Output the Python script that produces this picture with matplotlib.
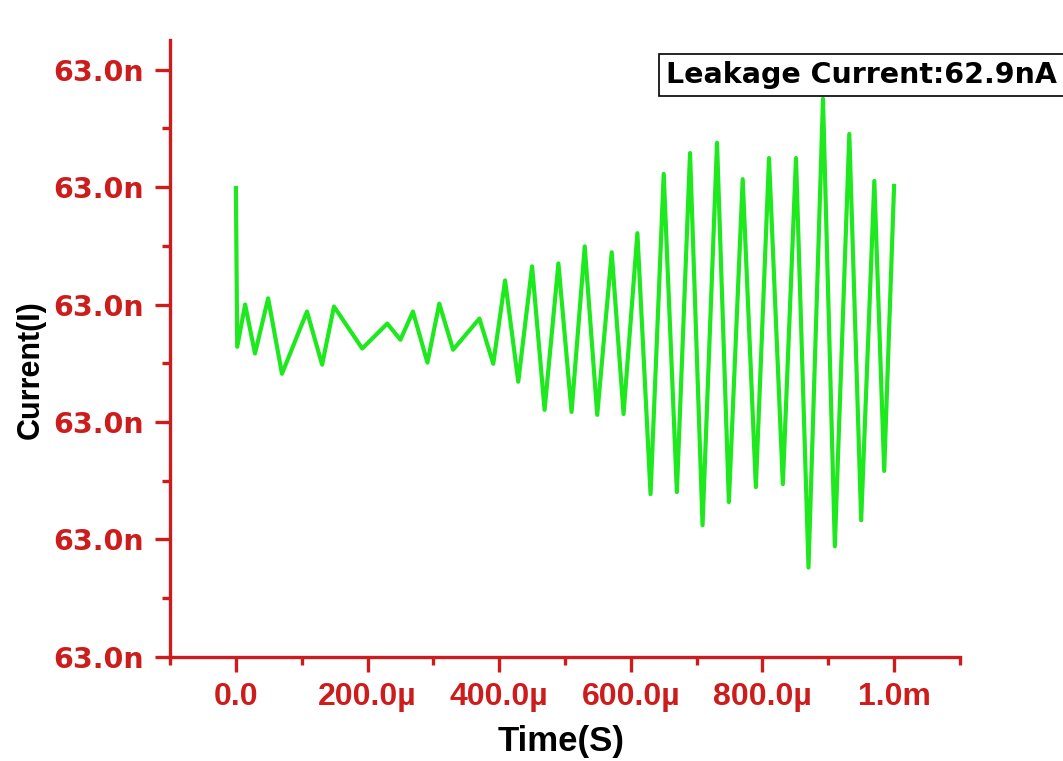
import numpy as np
import matplotlib
matplotlib.use('Agg')
import matplotlib.pyplot as plt
from matplotlib.ticker import FixedLocator, FuncFormatter

# Time in microseconds, current in nA
time_us = [0, 2, 14, 29, 49, 70, 108, 131, 149, 192, 230, 250, 269, 291, 309,
           330, 370, 391, 409, 429, 450, 469, 490, 510, 530, 549, 571, 589,
           610, 630, 650, 670, 690, 709, 731, 749, 770, 790, 810, 831, 851,
           870, 892, 910, 932, 950, 970, 985, 1000]
current_na = [63.0000597, 63.0000056, 63.0000200, 63.0000033, 63.0000221,
              62.9999964, 63.0000176, 62.9999995, 63.0000193, 63.0000050,
              63.0000135, 63.0000080, 63.0000176, 63.0000002, 63.0000203,
              63.0000046, 63.0000152, 62.9999998, 63.0000282, 62.9999937,
              63.0000330, 62.9999841, 63.0000340, 62.9999834, 63.0000398,
              62.9999824, 63.0000378, 62.9999827, 63.0000443, 62.9999554,
              63.0000645, 62.9999561, 63.0000716, 62.9999448, 63.0000751,
              62.9999527, 63.0000627, 62.9999578, 63.0000699, 62.9999588,
              63.0000699, 62.9999304, 63.0000901, 62.9999376, 63.0000781,
              62.9999465, 63.0000621, 62.9999633, 63.0000604]

y_ticks = [62.99990, 62.99994, 62.99998, 63.00002, 63.00006, 63.00010]
x_ticks = [0, 200, 400, 600, 800, 1000]
x_labels = ['0.0', '200.0\u00b5', '400.0\u00b5', '600.0\u00b5', '800.0\u00b5', '1.0m']
note = 'Leakage Current:62.9nA'

red = '#cc1c1c'
green = '#1ee81e'

fig = plt.figure(figsize=(10.63, 7.61), dpi=100)
ax = fig.add_axes([0.160, 0.137, 0.743, 0.810])

ax.plot(time_us, current_na, color=green, lw=3)

ax.set_xlim(-100, 1100)
ax.set_ylim(62.99990, 63.00011)

for s in ['top', 'right']:
    ax.spines[s].set_visible(False)
for s in ['left', 'bottom']:
    ax.spines[s].set_color(red)
    ax.spines[s].set_linewidth(2.4)

ax.xaxis.set_major_locator(FixedLocator(x_ticks))
ax.xaxis.set_minor_locator(FixedLocator([-100, 100, 300, 500, 700, 900, 1100]))
ax.set_xticklabels(x_labels)
ax.yaxis.set_major_locator(FixedLocator(y_ticks))
ax.yaxis.set_minor_locator(FixedLocator([y + 0.00002 for y in y_ticks[:-1]]))
ax.yaxis.set_major_formatter(FuncFormatter(lambda v, p: f'{v:.1f}n'))

ax.tick_params(which='both', color=red, width=2.4, direction='out')
ax.tick_params(which='major', length=11)
ax.tick_params(which='minor', length=6)
ax.tick_params(axis='x', which='major', pad=7, labelcolor=red)
ax.tick_params(axis='y', which='major', pad=8, labelcolor=red)

for lbl in ax.get_xticklabels():
    lbl.set_fontfamily('Liberation Sans')
    lbl.set_fontweight('bold')
    lbl.set_fontsize(23)
for lbl in ax.get_yticklabels():
    lbl.set_fontfamily('DejaVu Sans')
    lbl.set_fontweight('bold')
    lbl.set_fontsize(20.5)

ax.set_xlabel('Time(S)', family='Liberation Sans', weight='bold', fontsize=25)
ax.xaxis.set_label_coords(0.495, -0.11)
ax.set_ylabel('Current(I)', family='Liberation Sans', weight='bold', fontsize=22)
ax.yaxis.set_label_coords(-0.158, 0.465)

fig.text(0.9945, 0.901, note, ha='right', va='center', family='DejaVu Sans',
         weight='bold', fontsize=20.5,
         bbox=dict(boxstyle='square,pad=0.25', fc='white', ec='black', lw=1.2))

fig.savefig('out.png', dpi=100)
